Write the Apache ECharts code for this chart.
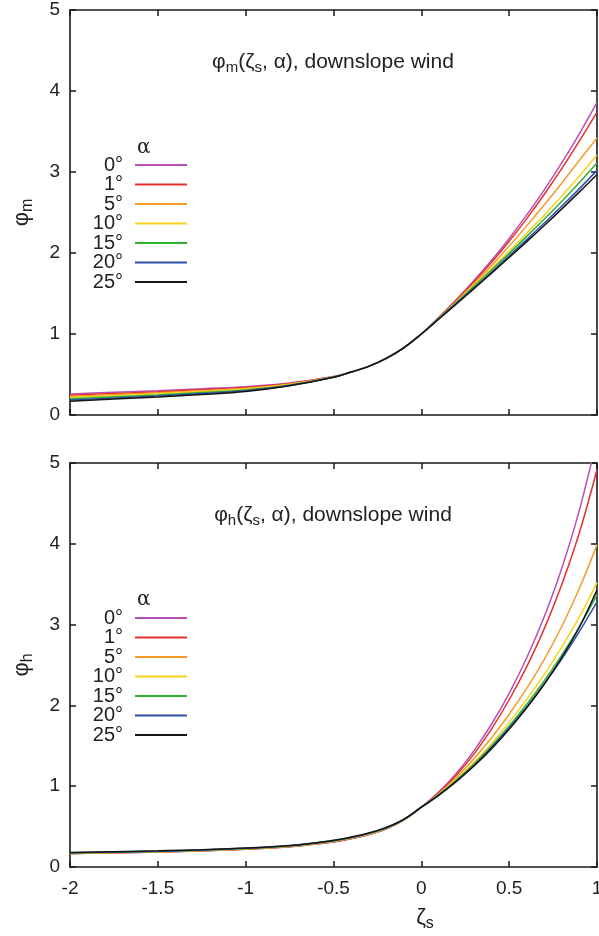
<!DOCTYPE html>
<html>
<head>
<meta charset="utf-8">
<script src="https://cdn.jsdelivr.net/npm/echarts@6/dist/echarts.min.js"></script>
<style>
  html, body { margin: 0; padding: 0; background: #fff; }
  #main { width: 599px; height: 936px; }
</style>
</head>
<body>
<div id="main"></div>
<script>
// stability parameter zeta_s (shared by both panels)
const zeta = [-2, -1.75, -1.5, -1.25, -1, -0.75, -0.5, -0.4, -0.3, -0.2, -0.1,
  0, 0.1, 0.2, 0.3, 0.4, 0.5, 0.6, 0.7, 0.8, 0.9, 1];

const alphaNames = ['0°', '1°', '5°', '10°', '15°', '20°', '25°'];

// phi_m(zeta_s, alpha), one array per slope angle
const phiM_0  = [0.26, 0.28, 0.30, 0.325, 0.35, 0.395, 0.475, 0.53, 0.60, 0.70, 0.83,
  1.0, 1.205, 1.425, 1.66, 1.91, 2.18, 2.47, 2.78, 3.115, 3.475, 3.86];
const phiM_1  = [0.245, 0.266, 0.287, 0.313, 0.34, 0.389, 0.473, 0.53, 0.60, 0.70, 0.83,
  1.0, 1.205, 1.42, 1.645, 1.885, 2.145, 2.425, 2.725, 3.045, 3.385, 3.74];
const phiM_5  = [0.23, 0.252, 0.274, 0.301, 0.33, 0.383, 0.47, 0.53, 0.60, 0.70, 0.83,
  1.0, 1.20, 1.405, 1.62, 1.845, 2.085, 2.335, 2.595, 2.865, 3.145, 3.42];
const phiM_10 = [0.215, 0.238, 0.261, 0.289, 0.32, 0.377, 0.468, 0.53, 0.60, 0.70, 0.83,
  1.0, 1.195, 1.395, 1.60, 1.81, 2.025, 2.245, 2.47, 2.705, 2.95, 3.21];
const phiM_15 = [0.20, 0.224, 0.248, 0.277, 0.31, 0.371, 0.466, 0.53, 0.60, 0.70, 0.83,
  1.0, 1.195, 1.39, 1.59, 1.79, 1.995, 2.205, 2.42, 2.64, 2.87, 3.11];
const phiM_20 = [0.185, 0.21, 0.235, 0.265, 0.30, 0.365, 0.465, 0.53, 0.60, 0.70, 0.83,
  1.0, 1.19, 1.38, 1.57, 1.765, 1.965, 2.165, 2.37, 2.58, 2.795, 3.02];
const phiM_25 = [0.17, 0.196, 0.222, 0.253, 0.29, 0.36, 0.465, 0.53, 0.60, 0.70, 0.83,
  1.0, 1.185, 1.37, 1.56, 1.75, 1.945, 2.14, 2.34, 2.545, 2.755, 2.97];

// phi_h(zeta_s, alpha)
const phiH_0  = [0.165, 0.175, 0.185, 0.20, 0.22, 0.25, 0.31, 0.35, 0.40, 0.47, 0.58,
  0.74, 0.93, 1.16, 1.44, 1.77, 2.15, 2.59, 3.10, 3.70, 4.42, 5.30];
const phiH_1  = [0.166, 0.176, 0.186, 0.201, 0.221, 0.252, 0.312, 0.352, 0.402, 0.472, 0.582,
  0.74, 0.92, 1.14, 1.40, 1.71, 2.07, 2.48, 2.95, 3.50, 4.14, 4.92];
const phiH_5  = [0.168, 0.178, 0.188, 0.203, 0.224, 0.255, 0.316, 0.356, 0.406, 0.476, 0.584,
  0.74, 0.91, 1.11, 1.34, 1.60, 1.89, 2.21, 2.57, 2.98, 3.45, 3.99];
const phiH_10 = [0.17, 0.18, 0.19, 0.205, 0.227, 0.258, 0.32, 0.36, 0.41, 0.48, 0.586,
  0.74, 0.90, 1.085, 1.295, 1.53, 1.79, 2.075, 2.385, 2.725, 3.095, 3.52];
const phiH_15 = [0.172, 0.182, 0.192, 0.207, 0.229, 0.26, 0.323, 0.363, 0.413, 0.483, 0.588,
  0.74, 0.895, 1.075, 1.275, 1.50, 1.745, 2.015, 2.305, 2.625, 2.975, 3.37];
const phiH_20 = [0.175, 0.185, 0.195, 0.21, 0.232, 0.262, 0.326, 0.366, 0.416, 0.486, 0.59,
  0.74, 0.89, 1.065, 1.26, 1.48, 1.72, 1.98, 2.265, 2.575, 2.915, 3.28];
const phiH_25 = [0.18, 0.19, 0.20, 0.215, 0.235, 0.265, 0.33, 0.37, 0.42, 0.49, 0.59,
  0.74, 0.89, 1.06, 1.25, 1.465, 1.705, 1.97, 2.265, 2.595, 2.97, 3.43];

const yTicks = [0, 1, 2, 3, 4, 5];
const xTicks = [-2, -1.5, -1, -0.5, 0, 0.5, 1];

const lineColors = ['#b84fba', '#e4302c', '#f59b2a', '#f7d21a', '#2eb033', '#2f4ea6', '#151515'];
const phiM = [phiM_0, phiM_1, phiM_5, phiM_10, phiM_15, phiM_20, phiM_25];
const phiH = [phiH_0, phiH_1, phiH_5, phiH_10, phiH_15, phiH_20, phiH_25];

const chart = echarts.init(document.getElementById('main'), null, { renderer: 'canvas' });

const FONT = 'Liberation Sans, Arial, Helvetica, sans-serif';
const axisLine = { show: true, onZero: false, lineStyle: { color: '#1a1a1a', width: 1.6 } };
const tick = { show: true, inside: true, length: 6, lineStyle: { color: '#1a1a1a', width: 1.5 } };
const labelStyle = { fontFamily: FONT, fontSize: 19, color: '#222' };
const nameRich = {
  p: { fontSize: 22, fontFamily: FONT, color: '#222' },
  s: { fontSize: 16, fontFamily: FONT, color: '#222', padding: [13, 0, 0, 0] }
};

function xAx(grid, pos, labels) {
  return {
    type: 'value', gridIndex: grid, position: pos, min: -2, max: 1, interval: 0.5,
    axisLine: axisLine, axisTick: tick, splitLine: { show: false },
    axisLabel: Object.assign({ show: labels, margin: 12,
      formatter: v => xTicks.indexOf(v) >= 0 ? String(v) : '' }, labelStyle)
  };
}
function yAx(grid, pos, labels, name) {
  return {
    type: 'value', gridIndex: grid, position: pos, min: 0, max: 5, interval: 1,
    axisLine: axisLine, axisTick: tick, splitLine: { show: false },
    axisLabel: Object.assign({ show: labels, margin: 10,
      formatter: v => yTicks.indexOf(v) >= 0 ? String(v) : '' }, labelStyle),
    name: name || '', nameLocation: 'middle', nameGap: 34, nameRotate: 90,
    nameTextStyle: { fontFamily: FONT, color: '#222', rich: nameRich }
  };
}

const xAxes = [xAx(0, 'bottom', false), xAx(0, 'top', false), xAx(1, 'bottom', true), xAx(1, 'top', false)];
xAxes[2].name = '{p|ζ}{s|s}';
xAxes[2].nameLocation = 'middle';
xAxes[2].nameGap = 36;
xAxes[2].nameTextStyle = { padding: [0, 0, 0, 183], rich: nameRich };

const series = [];
alphaNames.forEach((name, k) => {
  series.push({
    name: name, type: 'line', xAxisIndex: 0, yAxisIndex: 0,
    data: zeta.map((z, i) => [z, phiM[k][i]]),
    showSymbol: false, smooth: 0.4,
    color: lineColors[k], lineStyle: { width: 1.5 }
  });
  series.push({
    name: name, type: 'line', xAxisIndex: 2, yAxisIndex: 2,
    data: zeta.map((z, i) => [z, phiH[k][i]]),
    showSymbol: false, smooth: 0.4,
    color: lineColors[k], lineStyle: { width: 1.5 }
  });
});

function legendAt(top) {
  return {
    orient: 'vertical', left: 77, top: top, align: 'right', padding: 0,
    data: alphaNames, itemWidth: 52, itemHeight: 12, itemGap: -0.5,
    icon: 'path://M0,0 L52,0 L52,2 L0,2 Z',
    selectedMode: false,
    textStyle: { fontFamily: FONT, fontSize: 20, lineHeight: 18, color: '#222',
      width: 46, align: 'right', padding: [0, 7, 0, 0] }
  };
}

const titleRich = {
  p: { fontSize: 21, fontFamily: FONT, fill: '#222' },
  s: { fontSize: 15, fontFamily: FONT, fill: '#222', padding: [12, 0, 0, 0] }
};

chart.setOption({
  backgroundColor: '#fff',
  animation: false,
  grid: [
    { left: 70, top: 10, width: 527, height: 405, outerBoundsMode: 'none' },
    { left: 70, top: 463, width: 527, height: 404, outerBoundsMode: 'none' }
  ],
  xAxis: xAxes,
  yAxis: [yAx(0, 'left', true, '{p|φ}{s|m}'), yAx(0, 'right', false), yAx(1, 'left', true, '{p|φ}{s|h}'), yAx(1, 'right', false)],
  legend: [legendAt(155), legendAt(608)],
  series: series,
  graphic: [
    { type: 'text', x: 333, y: 62, style: { text: '{p|φ}{s|m}{p|(ζ}{s|s}{p|, α), downslope wind}', rich: titleRich, align: 'center', verticalAlign: 'middle' } },
    { type: 'text', x: 333, y: 515, style: { text: '{p|φ}{s|h}{p|(ζ}{s|s}{p|, α), downslope wind}', rich: titleRich, align: 'center', verticalAlign: 'middle' } },
    { type: 'text', left: 137, top: 138, style: { text: 'α', font: '20px DejaVu Serif, serif', fill: '#222' } },
    { type: 'text', left: 137, top: 590, style: { text: 'α', font: '20px DejaVu Serif, serif', fill: '#222' } }
  ]
});
</script>
</body>
</html>
